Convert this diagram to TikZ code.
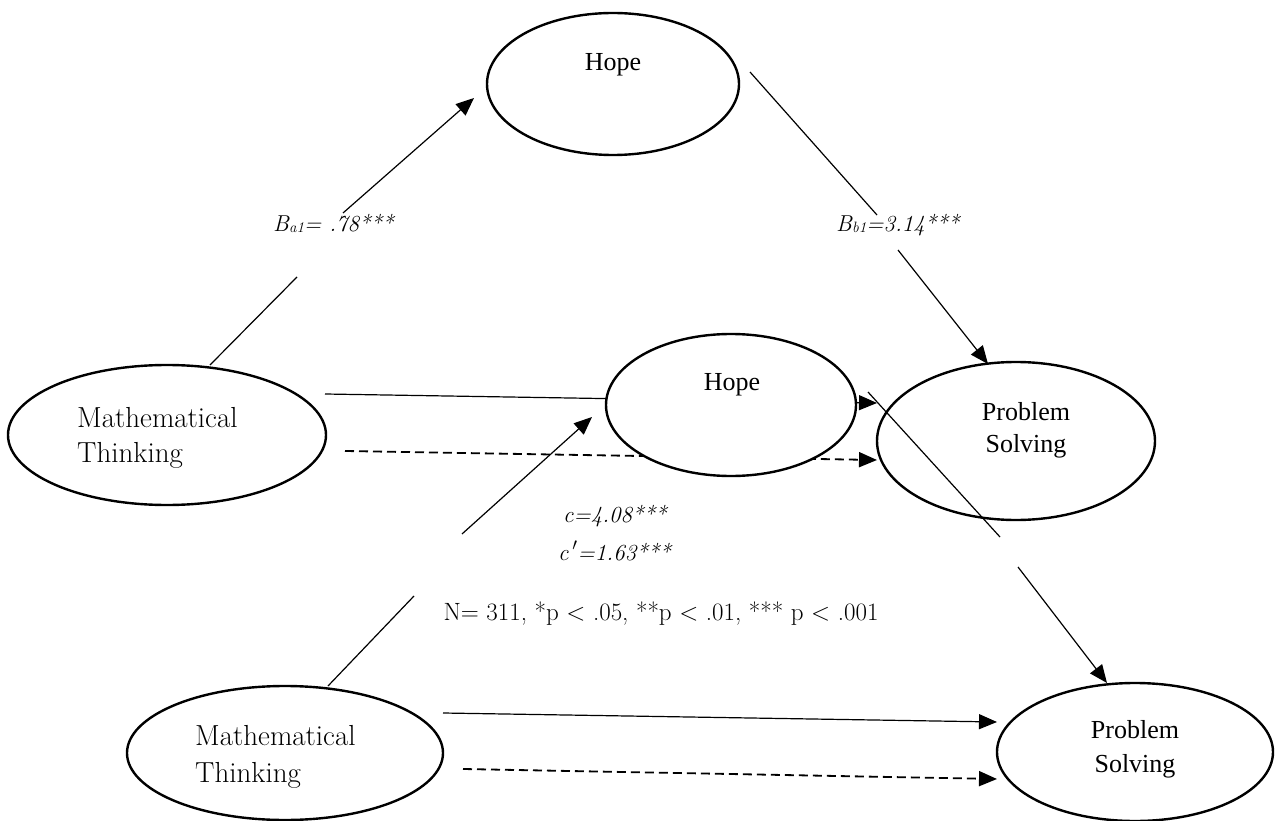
\documentclass[tikz,border=0pt]{standalone}
\usepackage{fontspec}
\newfontfamily\tnr{Liberation Serif}
\usetikzlibrary{shapes.geometric,arrows.meta}
\tikzset{
  ell/.style={draw, ellipse, line width=2.4pt, inner sep=0pt, fill=white},
  conn/.style={line width=1.2pt},
  arr/.style={conn, -{Triangle[length=18pt,width=15pt]}},
  dsh/.style={arr, line width=1.8pt, dash pattern=on 9pt off 5pt},
  tnrtext/.style={font=\tnr\fontsize{26}{30}\selectfont, inner sep=0pt},
  pal/.style={font=\fontsize{29}{32}\selectfont, inner sep=0pt},
  lab/.style={font=\itshape\fontsize{23}{26}\selectfont, inner sep=0pt},
  note/.style={font=\fontsize{25}{28}\selectfont, inner sep=0pt},
}
\newcommand{\sbs}[1]{\raisebox{-1pt}{\fontsize{15}{15}\selectfont #1}}
\begin{document}
\begin{tikzpicture}[x=1pt,y=-1pt]
\useasboundingbox (0,0) rectangle (1275,821);

% free ends of connectors
\coordinate (a1s) at (210,365); \coordinate (a1e) at (297,277);
\coordinate (a2s) at (343,213); \coordinate (a2e) at (474,98);
\coordinate (b1s) at (750,72);  \coordinate (b1e) at (877,215);
\coordinate (b2s) at (898,250); \coordinate (b2e) at (988,364);
\coordinate (cs) at (325,394);  \coordinate (ce) at (877,403);
\coordinate (ds) at (345,451);  \coordinate (de) at (877,460);
\coordinate (la1s) at (328,686); \coordinate (la1e) at (414,596);
\coordinate (la2s) at (462,534); \coordinate (la2e) at (592,417);
\coordinate (lb1s) at (868,392); \coordinate (lb1e) at (1000,537);
\coordinate (lb2s) at (1018,567); \coordinate (lb2e) at (1107,683);
\coordinate (bcs) at (443,713); \coordinate (bce) at (997,722);
\coordinate (bds) at (463,769); \coordinate (bde) at (997,779);

\draw[conn] (a1s) -- (a1e);
\draw[arr] (a2s) -- (a2e);
\draw[conn] (b1s) -- (b1e);
\draw[arr] (b2s) -- (b2e);
\draw[arr] (cs) -- (ce);
\draw[dsh] (ds) -- (de);
\draw[conn] (la1s) -- (la1e);
\draw[arr] (la2s) -- (la2e);
\draw[arr] (bcs) -- (bce);
\draw[dsh] (bds) -- (bde);

% ellipses
\node[ell, minimum width=252pt, minimum height=142pt] (hopeT) at (613,84) {};
\node[ell, minimum width=250pt, minimum height=142pt] (hopeM) at (731,405) {};
\node[ell, minimum width=278pt, minimum height=158pt] (psM) at (1016,441) {};
\node[ell, minimum width=318pt, minimum height=140pt] (mtM) at (167,435) {};
\node[ell, minimum width=316pt, minimum height=134pt] (mtB) at (285,753) {};
\node[ell, minimum width=276pt, minimum height=138pt] (psB) at (1135,752) {};

\draw[conn] (lb1s) -- (lb1e);
\draw[arr] (lb2s) -- (lb2e);

% texts
\node[tnrtext, anchor=base] (tHopeT) at (613,71) {Hope};
\node[tnrtext, anchor=base] (tHopeM) at (732,390) {Hope};
\node[tnrtext, anchor=base] (tPSM1) at (1026,420) {Problem};
\node[tnrtext, anchor=base] (tPSM2) at (1026,452) {Solving};
\node[tnrtext, anchor=base] (tPSB1) at (1135,738) {Problem};
\node[tnrtext, anchor=base] (tPSB2) at (1135,772) {Solving};
\node[pal, anchor=base west] (tMTM1) at (77,427) {Mathematical};
\node[pal, anchor=base west] (tMTM2) at (77,462) {Thinking};
\node[pal, anchor=base west] (tMTB1) at (195,745) {Mathematical};
\node[pal, anchor=base west] (tMTB2) at (195,782) {Thinking};

\node[lab, anchor=base west] (la) at (273,232) {B\sbs{a1}= .78***};
\node[lab, anchor=base west] (lb) at (836,232) {B\sbs{b1}=3.14***};
\node[lab, anchor=base west] (lc) at (563,522) {c=4.08***};
\node[lab, anchor=base west] (lcp) at (558,560) {c\,$'$=1.63***};
\node[note, anchor=base] (nn) at (661,620) {N= 311, *p < .05, **p < .01, *** p < .001};
\end{tikzpicture}
\end{document}
